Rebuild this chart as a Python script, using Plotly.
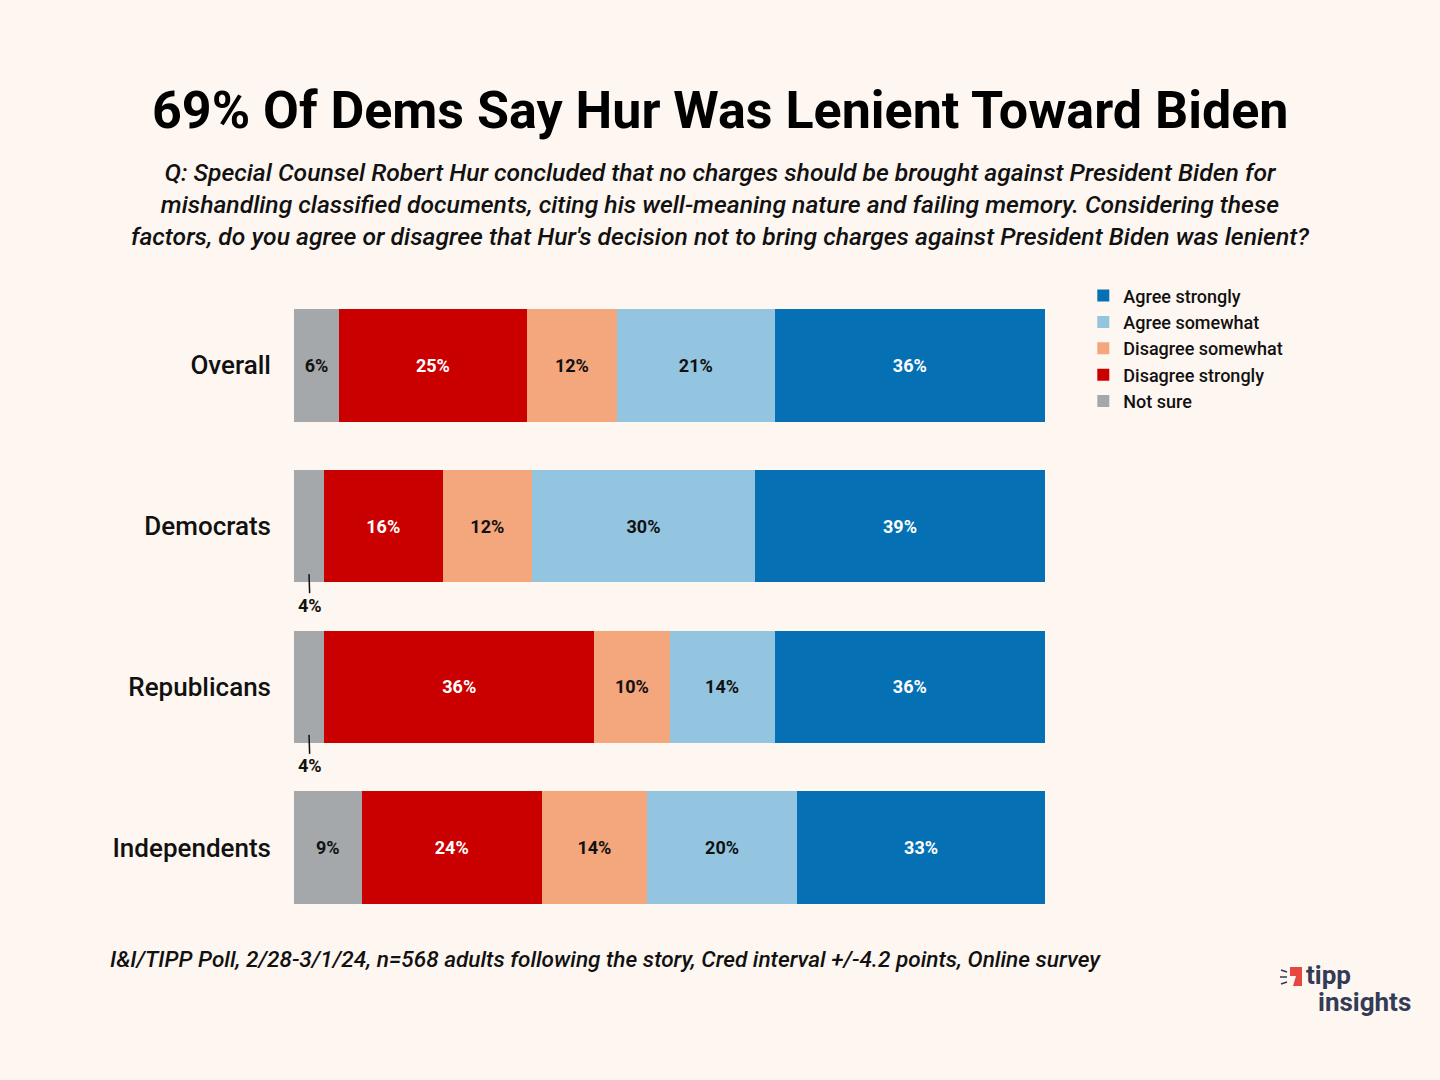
import plotly.graph_objects as go

groups = ["Overall", "Democrats", "Republicans", "Independents"]
series_names = ["Not sure", "Disagree strongly", "Disagree somewhat", "Agree somewhat", "Agree strongly"]
not_sure = [6, 4, 4, 9]
disagree_strongly = [25, 16, 36, 24]
disagree_somewhat = [12, 12, 10, 14]
agree_somewhat = [21, 30, 14, 20]
agree_strongly = [36, 39, 36, 33]

values = [not_sure, disagree_strongly, disagree_somewhat, agree_somewhat, agree_strongly]
colors = ["#A5A8AA", "#CA0000", "#F4A67C", "#93C5E0", "#0570B4"]
text_colors = ["#111111", "#FFFFFF", "#111111", "#111111", "#FFFFFF"]

BG = "#FEF6F0"
FONT = "Roboto"

fig = go.Figure()
for name, vals, col, tc in zip(series_names, values, colors, text_colors):
    labels = [f"{v}%" if v >= 5 else "" for v in vals]
    fig.add_trace(go.Bar(
        y=groups, x=vals, name=name, orientation="h",
        marker=dict(color=col, line=dict(width=0)),
        text=labels, textposition="inside", insidetextanchor="middle",
        textangle=0,
        textfont=dict(color=tc, size=18, family=FONT, weight="bold"),
        hoverinfo="skip",
    ))

# small outside labels for narrow segments
for g, v in zip(groups, not_sure):
    if v < 5:
        fig.add_annotation(
            x=v / 2, y=g, yref="y", xref="x",
            yshift=-48,
            text=f"<b>{v}%</b>", showarrow=True, arrowhead=0, arrowwidth=1.5,
            arrowcolor="#111111", ax=1, ay=31, standoff=0,
            font=dict(size=18, color="#111111", family=FONT),
        )

fig.update_layout(
    barmode="stack", barnorm="percent",
    bargap=0.30,
    width=1440, height=1080,
    paper_bgcolor=BG, plot_bgcolor=BG,
    margin=dict(l=294, r=395, t=285, b=152),
    showlegend=True,
    legend=dict(
        x=1.051, y=1.012, xanchor="left", yanchor="top",
        traceorder="reversed",
        font=dict(size=18, family=FONT, color="#111111", weight=500),
        bgcolor="rgba(0,0,0,0)", itemwidth=30,
        tracegroupgap=0,
    ),
    xaxis=dict(visible=False, range=[0, 100], fixedrange=True),
    yaxis=dict(
        autorange="reversed", showgrid=False, zeroline=False, showline=False,
        ticks="", ticklabelstandoff=22, fixedrange=True,
        tickfont=dict(size=26, family=FONT, color="#111111", weight=500),
    ),
    font=dict(family=FONT),
)

def px_x(p):
    return (p - 294) / 751

def px_y(p):
    return 1 - (p - 285) / 643

fig.add_annotation(
    xref="paper", yref="paper", x=px_x(720), y=px_y(110),
    text="<b>69% Of Dems Say Hur Was Lenient Toward Biden</b>", showarrow=False,
    xanchor="center", yanchor="middle",
    font=dict(size=52, family=FONT, color="#000000"),
)

subtitle = ("<i>Q: Special Counsel Robert Hur concluded that no charges should be brought against President Biden for<br>"
            "mishandling classified documents, citing his well-meaning nature and failing memory. Considering these<br>"
            "factors, do you agree or disagree that Hur's decision not to bring charges against President Biden was lenient?</i>")
fig.add_annotation(
    xref="paper", yref="paper", x=px_x(720), y=px_y(204),
    text=subtitle, showarrow=False, xanchor="center", yanchor="middle",
    align="center",
    font=dict(size=24.7, family=FONT, color="#111111", weight=500),
)

fig.add_annotation(
    xref="paper", yref="paper", x=px_x(108), y=px_y(959),
    text="<i>I&I/TIPP Poll, 2/28-3/1/24, n=568 adults following the story, Cred interval +/-4.2 points, Online survey</i>",
    showarrow=False, xanchor="left", yanchor="middle",
    font=dict(size=22.6, family=FONT, color="#111111", weight=500),
)

# logo
fig.add_shape(type="path", xref="paper", yref="paper",
              path=f"M {px_x(1290)} {px_y(967)} L {px_x(1302)} {px_y(967)} L {px_x(1302)} {px_y(986)} L {px_x(1293)} {px_y(986)} L {px_x(1296)} {px_y(976)} L {px_x(1290)} {px_y(976)} Z",
              fillcolor="#E8473F", line=dict(width=0))
for (x0, y0, x1, y1) in [(1281, 970, 1287, 972), (1280, 977, 1287, 977), (1281, 984, 1287, 982)]:
    fig.add_shape(type="line", xref="paper", yref="paper",
                  x0=px_x(x0), y0=px_y(y0), x1=px_x(x1), y1=px_y(y1),
                  line=dict(color="#343B57", width=1.5))
fig.add_annotation(xref="paper", yref="paper", x=px_x(1304), y=px_y(975),
                   text="<b>tipp</b>", showarrow=False, xanchor="left", yanchor="middle",
                   font=dict(size=26, family=FONT, color="#343B57"))
fig.add_annotation(xref="paper", yref="paper", x=px_x(1316), y=px_y(1002),
                   text="<b>insights</b>", showarrow=False, xanchor="left", yanchor="middle",
                   font=dict(size=26, family=FONT, color="#343B57"))

fig.write_html(
    "out.html",
    config={"displayModeBar": False},
    post_script="document.body.style.margin='0';document.body.style.background='#FEF6F0';",
)
